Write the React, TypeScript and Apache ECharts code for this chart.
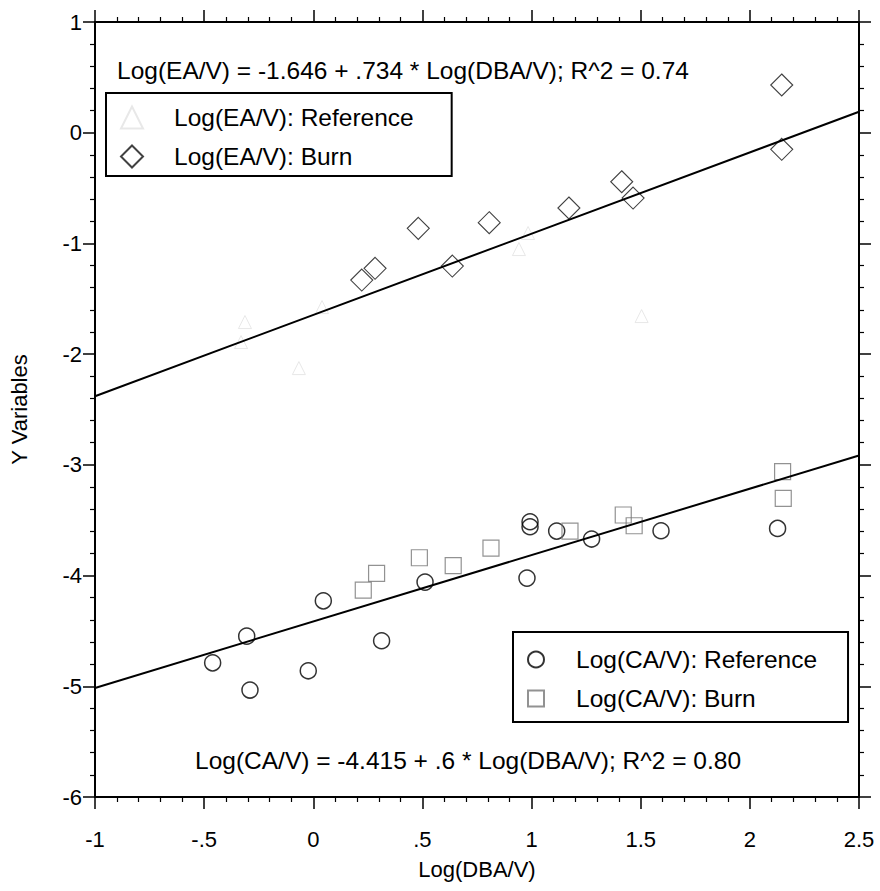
import React, { useEffect, useRef } from "react";
import * as echarts from "echarts";

// Axis ranges and tick labels
const X_MIN = -1;
const X_MAX = 2.5;
const X_STEP = 0.5;
const Y_MIN = -6;
const Y_MAX = 1;
const Y_STEP = 1;
const xTickLabels = ["-1", "-.5", "0", ".5", "1", "1.5", "2", "2.5"];
const yTickLabels = ["-6", "-5", "-4", "-3", "-2", "-1", "0", "1"];

// Log(EA/V): Reference
const eaRefX = [-0.313, -0.331, 0.04, -0.066, 0.984, 0.942, 1.504];
const eaRefY = [-1.71, -1.891, -1.575, -2.126, -0.906, -1.051, -1.656];

// Log(EA/V): Burn
const eaBurnX = [0.222, 0.283, 0.481, 0.637, 0.806, 1.171, 1.413, 1.465, 2.146, 2.146];
const eaBurnY = [-1.331, -1.225, -0.864, -1.204, -0.813, -0.68, -0.443, -0.59, 0.431, -0.15];

// Log(CA/V): Reference
const caRefX = [-0.461, -0.305, -0.29, -0.023, 0.046, 0.313, 0.512, 0.979, 0.993, 0.993, 1.115, 1.275, 1.593, 2.127];
const caRefY = [-4.788, -4.547, -5.034, -4.86, -4.228, -4.589, -4.059, -4.023, -3.514, -3.559, -3.598, -3.67, -3.595, -3.574];

// Log(CA/V): Burn
const caBurnX = [0.229, 0.29, 0.486, 0.641, 0.814, 1.176, 1.42, 1.47, 2.15, 2.153];
const caBurnY = [-4.131, -3.98, -3.839, -3.911, -3.752, -3.598, -3.453, -3.55, -3.062, -3.303];

// Fitted regressions
const eaFit = { intercept: -1.646, slope: 0.734, r2: 0.74 };
const caFit = { intercept: -4.415, slope: 0.6, r2: 0.8 };

const FONT = '"Liberation Sans", Arial, Helvetica, sans-serif';

const pairs = (xs: number[], ys: number[]) => xs.map((x, i) => [x, ys[i]]);
const fitLine = (f: { intercept: number; slope: number }) =>
  [X_MIN, X_MAX].map((x) => [x, f.intercept + f.slope * x]);
const coef = (v: number) => String(v).replace(/^(-?)0\./, "$1.");
const equation = (name: string, f: { intercept: number; slope: number; r2: number }) =>
  `${name} = ${coef(f.intercept)} + ${coef(f.slope)} * Log(DBA/V); R^2 = ${f.r2.toFixed(2)}`;

const tickFmt = (labels: string[], min: number, step: number) => (v: number) => {
  const i = Math.round((v - min) / step);
  return labels[i] ?? "";
};

const axisBase = {
  axisLine: { show: true, onZero: false, lineStyle: { color: "#000", width: 2 } },
  axisTick: { show: true, inside: false, length: 12, lineStyle: { color: "#000", width: 1.5 } },
  minorTick: { show: true, splitNumber: 5, length: 5, lineStyle: { color: "#000", width: 1.2 } },
  splitLine: { show: false },
  minorSplitLine: { show: false },
};

export default function App() {
  const ref = useRef<HTMLDivElement>(null);

  useEffect(() => {
    if (!ref.current) return;
    const chart = echarts.init(ref.current, undefined, { renderer: "svg" });

    const xCommon = { type: "value" as const, min: X_MIN, max: X_MAX, interval: X_STEP, ...axisBase };
    const yCommon = { type: "value" as const, min: Y_MIN, max: Y_MAX, interval: Y_STEP, ...axisBase };

    chart.setOption({
      animation: false,
      backgroundColor: "#fff",
      textStyle: { fontFamily: FONT, color: "#000" },
      grid: { left: 95, top: 22, width: 764, height: 775, containLabel: false },
      xAxis: [
        {
          ...xCommon,
          position: "bottom",
          axisLabel: {
            show: true,
            margin: 31,
            fontSize: 22,
            color: "#000",
            fontFamily: FONT,
            formatter: tickFmt(xTickLabels, X_MIN, X_STEP),
          },
          name: "Log(DBA/V)",
          nameLocation: "middle",
          nameGap: 61,
          nameTextStyle: { fontSize: 22, color: "#000", fontFamily: FONT },
        },
        { ...xCommon, position: "top", axisLabel: { show: false } },
      ],
      yAxis: [
        {
          ...yCommon,
          position: "left",
          axisLabel: {
            show: true,
            margin: 13,
            fontSize: 22,
            color: "#000",
            fontFamily: FONT,
            formatter: tickFmt(yTickLabels, Y_MIN, Y_STEP),
          },
          name: "Y Variables",
          nameLocation: "middle",
          nameGap: 65,
          nameTextStyle: { fontSize: 22, color: "#000", fontFamily: FONT },
        },
        { ...yCommon, position: "right", axisLabel: { show: false } },
      ],
      legend: [
        {
          orient: "vertical",
          left: 106,
          top: 93,
          selectedMode: false,
          itemWidth: 22,
          itemHeight: 22,
          itemGap: 14,
          padding: [12, 38, 7, 14],
          borderColor: "#000",
          borderWidth: 2,
          backgroundColor: "#fff",
          textStyle: { fontSize: 24.5, color: "#000", fontFamily: FONT, padding: [0, 0, 0, 26] },
          data: ["Log(EA/V): Reference", "Log(EA/V): Burn"],
        },
        {
          orient: "vertical",
          left: 513,
          top: 632,
          selectedMode: false,
          itemWidth: 16,
          itemHeight: 16,
          itemGap: 14,
          padding: [15, 31, 11, 14],
          borderColor: "#000",
          borderWidth: 2,
          backgroundColor: "#fff",
          textStyle: { fontSize: 24.5, color: "#000", fontFamily: FONT, padding: [0, 0, 0, 27] },
          data: ["Log(CA/V): Reference", "Log(CA/V): Burn"],
        },
      ],
      graphic: [
        {
          type: "text",
          x: 117,
          y: 70,
          style: {
            text: equation("Log(EA/V)", eaFit),
            fontSize: 24.5,
            fontFamily: FONT,
            fill: "#000",
            verticalAlign: "middle",
            align: "left",
          },
        },
        {
          type: "text",
          x: 195,
          y: 760,
          style: {
            text: equation("Log(CA/V)", caFit),
            fontSize: 24.5,
            fontFamily: FONT,
            fill: "#000",
            verticalAlign: "middle",
            align: "left",
          },
        },
      ],
      series: [
        {
          name: "EA fit",
          type: "line",
          data: fitLine(eaFit),
          symbol: "none",
          lineStyle: { color: "#000", width: 2 },
          silent: true,
        },
        {
          name: "CA fit",
          type: "line",
          data: fitLine(caFit),
          symbol: "none",
          lineStyle: { color: "#000", width: 2 },
          silent: true,
        },
        {
          name: "Log(EA/V): Reference",
          type: "scatter",
          data: pairs(eaRefX, eaRefY),
          symbol: "triangle",
          symbolSize: 13,
          itemStyle: { color: "rgba(0,0,0,0)", borderColor: "#e2e2e2", borderWidth: 1 },
        },
        {
          name: "Log(EA/V): Burn",
          type: "scatter",
          data: pairs(eaBurnX, eaBurnY),
          symbol: "diamond",
          symbolSize: 22,
          itemStyle: { color: "rgba(0,0,0,0)", borderColor: "#111", borderWidth: 1.1 },
        },
        {
          name: "Log(CA/V): Reference",
          type: "scatter",
          data: pairs(caRefX, caRefY),
          symbol: "circle",
          symbolSize: 16,
          itemStyle: { color: "rgba(0,0,0,0)", borderColor: "#000", borderWidth: 1.5 },
        },
        {
          name: "Log(CA/V): Burn",
          type: "scatter",
          data: pairs(caBurnX, caBurnY),
          symbol: "rect",
          symbolSize: 16,
          itemStyle: { color: "rgba(0,0,0,0)", borderColor: "#777", borderWidth: 1.2 },
        },
      ],
    });

    return () => chart.dispose();
  }, []);

  return (
    <div
      ref={ref}
      style={{ position: "absolute", left: 0, top: 0, width: 880, height: 891, background: "#fff" }}
    />
  );
}
